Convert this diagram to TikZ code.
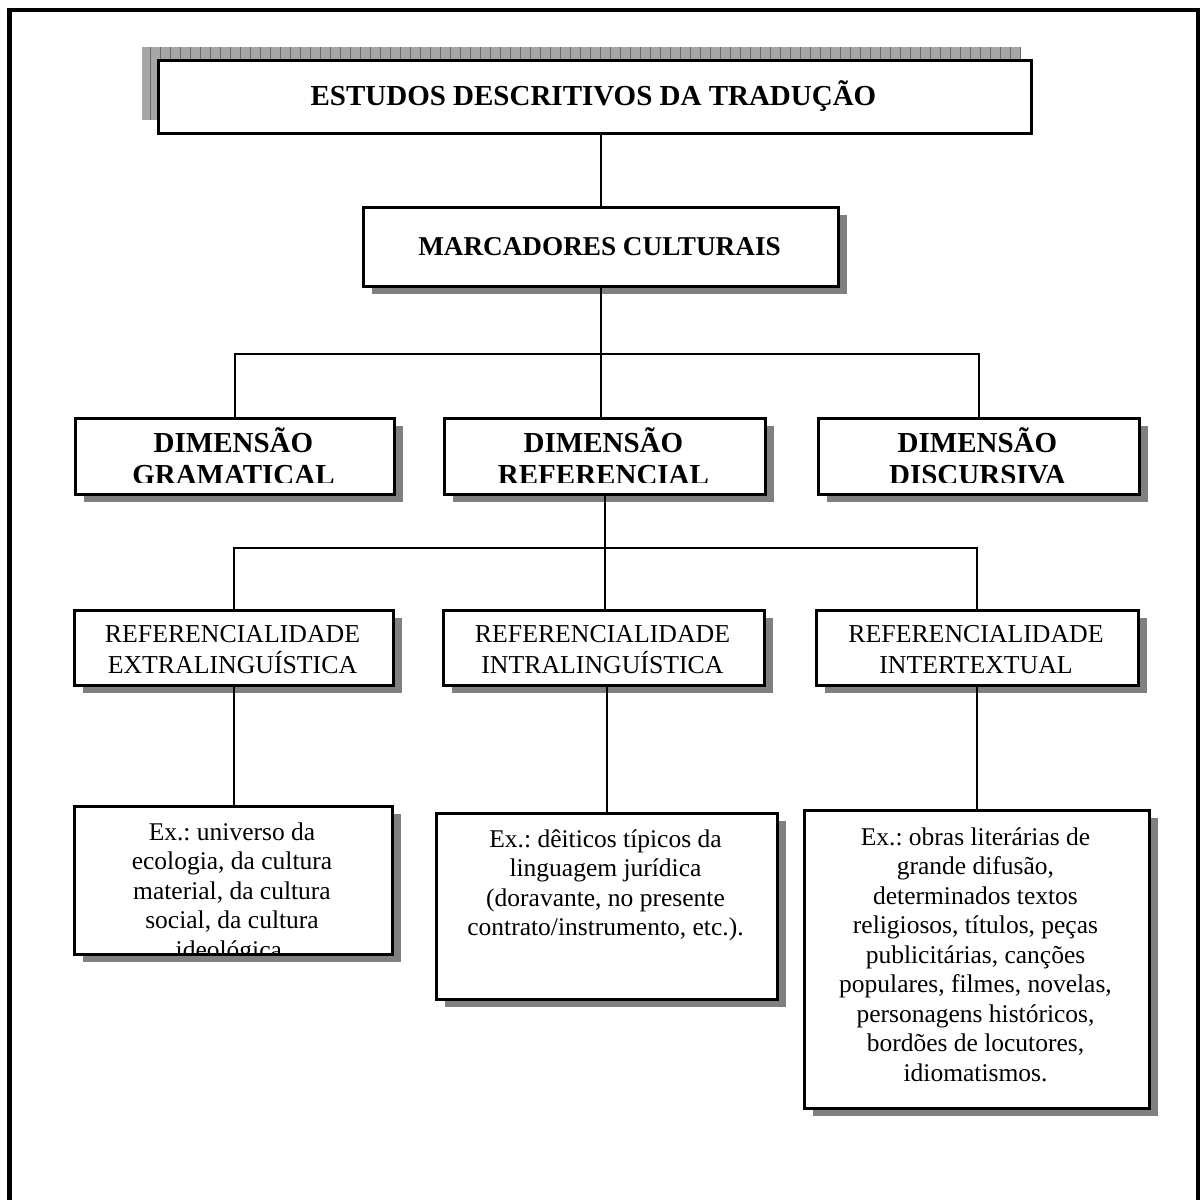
\documentclass[tikz,border=0pt]{standalone}
\usepackage{fontspec}
\setmainfont{Liberation Serif}
\usetikzlibrary{shadows}
\frenchspacing
\newcommand\txtreg{\fontsize{12.75pt}{14.75pt}\selectfont}
\newcommand\txtregw{\fontsize{12.9pt}{15.5pt}\selectfont}
\newcommand\txtbold{\fontsize{14.5pt}{16pt}\selectfont\bfseries}
\newcommand\txtboldm{\fontsize{13.6pt}{16pt}\selectfont\bfseries}
\begin{document}
\begin{tikzpicture}[x=0.5pt,y=-0.5pt,
  boxbase/.style={draw, fill=white, line width=1.3pt, inner sep=0pt, anchor=north west},
  cbox/.style={boxbase, drop shadow={shadow xshift=4.5pt, shadow yshift=-4pt, fill=black!50, opacity=1}},
  conn/.style={line width=1pt},
  lbl/.style={anchor=base, align=center, inner sep=0pt},
  reg/.style={lbl, font=\txtreg},
  bld/.style={lbl, font=\txtbold}]
\useasboundingbox (0,0) rectangle (1201,1200);
\draw[line width=2.3pt, line join=miter] (9.5,1200) -- (9.5,10) -- (1198,10) -- (1198,1200);

% title with checkered shadow
\fill[black!35] (142,47) rectangle (1020,120);
\draw[black!58, line width=0.3pt, step=10] (142,47) grid (1020,120);
\node[boxbase, minimum width=436.5pt, minimum height=36.5pt] (T) at (157,59) {};
\node[bld] (Tt) at (593.5,105) {ESTUDOS DESCRITIVOS DA TRADUÇÃO};

\node[cbox, minimum width=237.5pt, minimum height=39.5pt] (M) at (362,206) {};
\node[bld, font=\txtboldm] (Mt) at (599.5,255) {MARCADORES CULTURAIS};

% dimensions
\node[cbox, minimum width=159.5pt, minimum height=38pt] (D1) at (74,417) {};
\node[cbox, minimum width=160.5pt, minimum height=38pt] (D2) at (443,417) {};
\node[cbox, minimum width=160.5pt, minimum height=38pt] (D3) at (817,417) {};
\begin{scope}
\clip (74,417) rectangle (1138,482);
\node[bld] (D1t) at (233.5,484) {DIMENSÃO\\GRAMATICAL};
\node[bld] (D2t) at (603.5,484) {DIMENSÃO\\REFERENCIAL};
\node[bld] (D3t) at (977.5,484) {DIMENSÃO\\DISCURSIVA};
\end{scope}

% referencialidade
\node[cbox, minimum width=159.5pt, minimum height=37.5pt] (R1) at (73,609) {};
\node[cbox, minimum width=160.5pt, minimum height=37.5pt] (R2) at (442,609) {};
\node[cbox, minimum width=161pt, minimum height=37.5pt] (R3) at (815,609) {};
\node[lbl, font=\txtregw] (R1t) at (232.5,673) {REFERENCIALIDADE\\EXTRALINGUÍSTICA};
\node[lbl, font=\txtregw] (R2t) at (602.5,673) {REFERENCIALIDADE\\INTRALINGUÍSTICA};
\node[lbl, font=\txtregw] (R3t) at (976,673) {REFERENCIALIDADE\\INTERTEXTUAL};

% examples
\node[cbox, minimum width=159pt, minimum height=74pt] (B1) at (73,805) {};
\node[cbox, minimum width=170.5pt, minimum height=93pt] (B2) at (435,812) {};
\node[cbox, minimum width=172.5pt, minimum height=149pt] (B3) at (803,809) {};
\begin{scope}
\clip (73,805) rectangle (391,952);
\node[reg] (B1t) at (232,958) {Ex.: universo da\\ecologia, da cultura\\material, da cultura\\social, da cultura\\ideológica.};
\end{scope}
\node[reg] (B2t) at (605.5,935.5) {Ex.: dêiticos típicos da\\linguagem jurídica\\(doravante, no presente\\contrato/instrumento, etc.).};
\node[reg] (B3t) at (975.5,1081) {Ex.: obras literárias de\\grande difusão,\\determinados textos\\religiosos, títulos, peças\\publicitárias, canções\\populares, filmes, novelas,\\personagens históricos,\\bordões de locutores,\\idiomatismos.};

% connectors
\coordinate (h1) at (0,354);
\coordinate (h2) at (0,548);
\draw[conn] (T.south -| M.north) -- (M.north);
\draw[conn] (M.south) -- (M.south |- D2.north);
\draw[conn] (D1.north) -- (D1.north |- h1) -- (D3.north |- h1) -- (D3.north);
\draw[conn] (D2.south) -- (D2.south |- R2.north);
\draw[conn] (R1.north) -- (R1.north |- h2) -- (R3.north |- h2) -- (R3.north);
\draw[conn] (R1.south) -- (R1.south |- B1.north);
\draw[conn] (B2.north) -- (B2.north |- R2.south);
\draw[conn] (R3.south) -- (R3.south |- B3.north);
\end{tikzpicture}
\end{document}
